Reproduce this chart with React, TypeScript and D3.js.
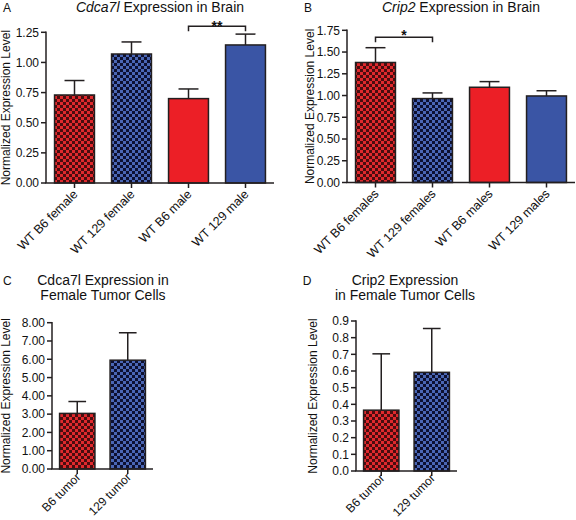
import React from "react";
import * as d3 from "d3";

// Panel A: Cdca7l expression in brain
const catsA = ["WT B6 female", "WT 129 female", "WT B6 male", "WT 129 male"];
const meansA = [0.73, 1.07, 0.70, 1.145];
const errsA = [0.12, 0.10, 0.08, 0.09];
const ticksA = [0, 0.25, 0.5, 0.75, 1.0, 1.25];

// Panel B: Crip2 expression in brain
const catsB = ["WT B6 females", "WT 129 females", "WT B6 males", "WT 129 males"];
const meansB = [1.38, 0.965, 1.095, 0.995];
const errsB = [0.17, 0.065, 0.065, 0.06];
const ticksB = [0, 0.25, 0.5, 0.75, 1.0, 1.25, 1.5, 1.75];

// Panel C: Cdca7l in female tumor cells
const catsC = ["B6 tumor", "129 tumor"];
const meansC = [3.04, 5.95];
const errsC = [0.65, 1.5];
const ticksC = [0, 1, 2, 3, 4, 5, 6, 7, 8];

// Panel D: Crip2 in female tumor cells
const catsD = ["B6 tumor", "129 tumor"];
const meansD = [0.365, 0.592];
const errsD = [0.338, 0.263];
const ticksD = [0, 0.1, 0.2, 0.3, 0.4, 0.5, 0.6, 0.7, 0.8, 0.9];

const fillsBrain = ["url(#chkRed)", "url(#chkBlue)", "#ec1f26", "#3a55a5"];
const fillsTumor = ["url(#chkRed)", "url(#chkBlue)"];

const FONT = "'Liberation Sans', Arial, Helvetica, sans-serif";
const AX = "#231f20";

type PanelProps = {
  letter: string;
  letterX: number;
  letterY: number;
  title: React.ReactNode[];
  titleX: number;
  titleY: number;
  cats: string[];
  means: number[];
  errs: number[];
  ticks: number[];
  fmt: string;
  fills: string[];
  x0: number;
  x1: number;
  yZero: number;
  yTop: number;
  ymax: number;
  ylabX: number;
  labSize: number;
  labDy: number;
  sig?: { a: number; b: number; level: number; text: string; dy: number };
};

function Panel(p: PanelProps) {
  const x = d3.scaleBand<string>().domain(p.cats).range([p.x0, p.x1]).paddingInner(0.3).paddingOuter(0.15);
  const y = d3.scaleLinear().domain([0, p.ymax]).range([p.yZero, p.yTop]);
  const f = d3.format(p.fmt);
  const bw = x.bandwidth();
  const cap = bw * 0.5;
  return (
    <g fontFamily={FONT}>
      <text x={p.letterX} y={p.letterY} fontSize={12} fill="#111">{p.letter}</text>
      {p.title.map((t, i) => (
        <text key={i} x={p.titleX} y={p.titleY + i * 14.5} fontSize={14} textAnchor="middle" fill="#111">{t}</text>
      ))}
      <text transform={`translate(${p.ylabX},${(p.yZero + p.yTop) / 2}) rotate(-90)`} fontSize={12} textAnchor="middle" fill="#111">
        Normalized Expression Level
      </text>
      {p.cats.map((c, i) => {
        const cx = (x(c) as number) + bw / 2;
        const top = y(p.means[i]);
        const et = y(p.means[i] + p.errs[i]);
        return (
          <g key={c}>
            <rect x={x(c)} y={top} width={bw} height={p.yZero - top} fill={p.fills[i]} stroke={AX} strokeWidth={1.5} />
            <line x1={cx} x2={cx} y1={top} y2={et} stroke={AX} strokeWidth={1.5} />
            <line x1={cx - cap / 2} x2={cx + cap / 2} y1={et} y2={et} stroke={AX} strokeWidth={1.5} />
            <line x1={cx} x2={cx} y1={p.yZero} y2={p.yZero + 5} stroke={AX} strokeWidth={1.5} />
            <text transform={`translate(${cx + 4},${p.yZero + p.labDy}) rotate(-45)`} fontSize={p.labSize} textAnchor="end" fill="#111">
              {c}
            </text>
          </g>
        );
      })}
      {p.ticks.map((t) => (
        <g key={t}>
          <line x1={p.x0 - 5} x2={p.x0} y1={y(t)} y2={y(t)} stroke={AX} strokeWidth={1.5} />
          <text x={p.x0 - 7} y={y(t)} dy="0.36em" fontSize={12} textAnchor="end" fill="#111">{f(t)}</text>
        </g>
      ))}
      <line x1={p.x0} x2={p.x0} y1={p.yZero} y2={y(p.ymax) - 0.75} stroke={AX} strokeWidth={1.5} />
      <line x1={p.x0 - 0.75} x2={p.x1} y1={p.yZero} y2={p.yZero} stroke={AX} strokeWidth={1.5} />
      {p.sig && (() => {
        const ax = (x(p.cats[p.sig.a]) as number) + bw / 2;
        const bx = (x(p.cats[p.sig.b]) as number) + bw / 2;
        const yy = y(p.sig.level);
        return (
          <g>
            <path d={`M${ax},${yy + 5}V${yy}H${bx}V${yy + 5}`} fill="none" stroke={AX} strokeWidth={1.5} />
            <text x={(ax + bx) / 2} y={yy + p.sig.dy} fontSize={14} fontWeight="bold" textAnchor="middle" fill="#111">{p.sig.text}</text>
          </g>
        );
      })()}
    </g>
  );
}

export default function App() {
  return (
    <svg width={576} height={520} style={{ position: "absolute", left: 0, top: 0, background: "#fff" }}>
      <defs>
        <pattern id="chkRed" width={6} height={6} patternUnits="userSpaceOnUse">
          <rect width={6} height={6} fill="#4a0d0f" />
          <rect width={3} height={3} fill="#e0292d" />
          <rect x={3} y={3} width={3} height={3} fill="#e0292d" />
        </pattern>
        <pattern id="chkBlue" width={6} height={6} patternUnits="userSpaceOnUse">
          <rect width={6} height={6} fill="#0d1030" />
          <rect width={3} height={3} fill="#4a66b4" />
          <rect x={3} y={3} width={3} height={3} fill="#4a66b4" />
        </pattern>
      </defs>
      <rect width={576} height={520} fill="#fff" />
      <Panel
        letter="A" letterX={3} letterY={12}
        title={[<><tspan fontStyle="italic">Cdca7l</tspan> Expression in Brain</>]}
        titleX={160} titleY={12}
        cats={catsA} means={meansA} errs={errsA} ticks={ticksA} fmt=".2f" fills={fillsBrain}
        x0={46} x1={274} yZero={183} yTop={32.3} ymax={1.25} ylabX={10}
        labSize={12.5} labDy={12}
        sig={{ a: 2, b: 3, level: 1.30, text: "**", dy: 5 }}
      />
      <Panel
        letter="B" letterX={304} letterY={12}
        title={[<><tspan fontStyle="italic">Crip2</tspan> Expression in Brain</>]}
        titleX={461} titleY={12}
        cats={catsB} means={meansB} errs={errsB} ticks={ticksB} fmt=".2f" fills={fillsBrain}
        x0={347} x1={575} yZero={182.5} yTop={30.3} ymax={1.75} ylabX={313.5}
        labSize={12.5} labDy={12}
        sig={{ a: 0, b: 1, level: 1.67, text: "*", dy: 3 }}
      />
      <Panel
        letter="C" letterX={3} letterY={285}
        title={["Cdca7l Expression in", "Female Tumor Cells"]}
        titleX={103} titleY={285}
        cats={catsC} means={meansC} errs={errsC} ticks={ticksC} fmt=".2f" fills={fillsTumor}
        x0={52} x1={153} yZero={469} yTop={322.7} ymax={8} ylabX={9.5}
        labSize={12} labDy={9}
      />
      <Panel
        letter="D" letterX={302.7} letterY={285}
        title={["Crip2 Expression", "in Female Tumor Cells"]}
        titleX={405} titleY={285}
        cats={catsD} means={meansD} errs={errsD} ticks={ticksD} fmt=".1f" fills={fillsTumor}
        x0={356} x1={457} yZero={471} yTop={321} ymax={0.9} ylabX={317}
        labSize={12} labDy={8}
      />
    </svg>
  );
}
